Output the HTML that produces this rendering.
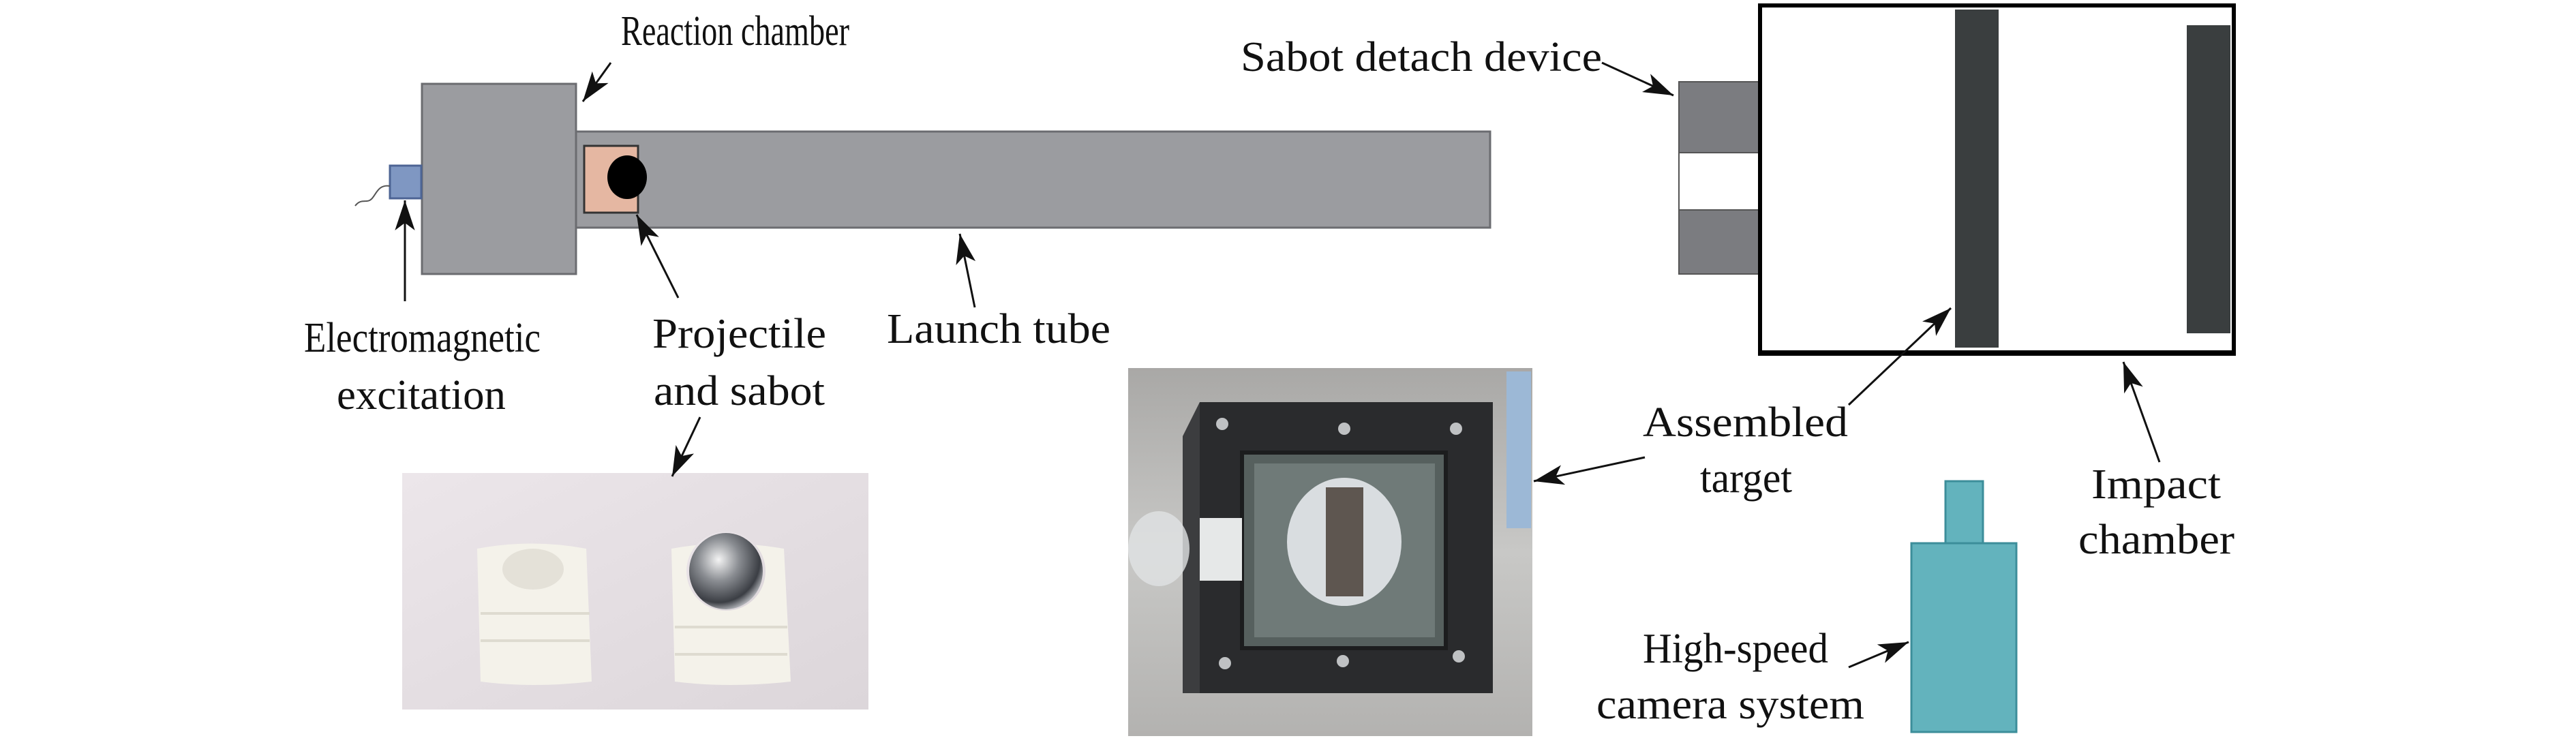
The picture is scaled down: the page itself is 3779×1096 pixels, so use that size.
<!DOCTYPE html>
<html><head><meta charset="utf-8"><style>
html,body{margin:0;padding:0;background:#fff;}
svg{display:block;}
text{font-family:"Liberation Serif","DejaVu Serif",serif;font-size:62px;fill:#111;}
</style></head><body>
<svg width="3779" height="1096" viewBox="0 0 3779 1096" xmlns="http://www.w3.org/2000/svg">
<defs>
<marker id="a" viewBox="0 0 12 8" refX="12" refY="4" markerWidth="44" markerHeight="30" markerUnits="userSpaceOnUse" orient="auto"><path d="M0,0 L12,4 L0,8 L3,4 z" fill="#111"/></marker>
<radialGradient id="ball" cx="0.4" cy="0.35" r="0.7"><stop offset="0" stop-color="#f4f4f4"/><stop offset="0.4" stop-color="#8a8d92"/><stop offset="0.8" stop-color="#3b3e44"/><stop offset="1" stop-color="#c9cbd0"/></radialGradient>
<linearGradient id="bg1" x1="0" y1="0" x2="1" y2="1"><stop offset="0" stop-color="#ece6ea"/><stop offset="1" stop-color="#dcd6da"/></linearGradient>
<linearGradient id="bg2" x1="0" y1="0" x2="0" y2="1"><stop offset="0" stop-color="#a9a8a6"/><stop offset="0.5" stop-color="#c8c8c6"/><stop offset="1" stop-color="#b3b2b0"/></linearGradient>
</defs>

<rect x="845" y="193" width="1341" height="141" fill="#9b9ca0" stroke="#6b6c70" stroke-width="3"/>
<rect x="619" y="123" width="226" height="279" fill="#9b9ca0" stroke="#6b6c70" stroke-width="3"/>
<rect x="572" y="243" width="46" height="48" fill="#7f97c2" stroke="#4d6494" stroke-width="3"/>
<path d="M572,273 C555,270 552,285 545,292 C538,299 530,290 521,302" fill="none" stroke="#555" stroke-width="2"/>
<rect x="857" y="214" width="79" height="98" fill="#e5b7a2" stroke="#333" stroke-width="3"/>
<ellipse cx="920" cy="260" rx="29" ry="32" fill="#000"/>

<rect x="2463" y="120" width="117" height="104" fill="#7b7c80" stroke="#555" stroke-width="2"/>
<rect x="2463" y="224" width="117" height="84" fill="#fff" stroke="#555" stroke-width="2"/>
<rect x="2463" y="308" width="117" height="94" fill="#7b7c80" stroke="#555" stroke-width="2"/>

<rect x="2582" y="8" width="695" height="511" fill="#fff" stroke="#000" stroke-width="6"/>
<rect x="2580" y="514" width="699" height="8" fill="#000"/>
<rect x="2868" y="14" width="64" height="496" fill="#3a3e3f"/>
<rect x="3208" y="37" width="64" height="452" fill="#3a3e3f"/>

<rect x="2854" y="706" width="55" height="93" fill="#63b3bd" stroke="#3c8e9a" stroke-width="3"/>
<rect x="2804" y="797" width="154" height="277" fill="#63b3bd" stroke="#3c8e9a" stroke-width="3"/>

<rect x="590" y="694" width="684" height="347" fill="url(#bg1)"/>
<path d="M700,805 Q780,790 860,805 L868,1000 Q780,1010 705,1000 Z" fill="#f4f2ea"/>
<ellipse cx="782" cy="835" rx="45" ry="30" fill="#e4e1d8"/>
<path d="M985,805 Q1065,790 1150,805 L1160,1000 Q1070,1010 990,1000 Z" fill="#f4f2ea"/>
<ellipse cx="1065" cy="838" rx="58" ry="58" fill="url(#bg1)"/>
<ellipse cx="1065" cy="838" rx="54" ry="56" fill="url(#ball)"/>
<g stroke="#dedbd0" stroke-width="4"><line x1="705" y1="900" x2="865" y2="900"/><line x1="705" y1="940" x2="865" y2="940"/><line x1="990" y1="920" x2="1155" y2="920"/><line x1="990" y1="960" x2="1155" y2="960"/></g>

<rect x="1655" y="540" width="593" height="540" fill="url(#bg2)"/>
<rect x="2210" y="545" width="36" height="230" fill="#9cb8d6"/>
<polygon points="1760,590 2190,590 2190,1017 1760,1017" fill="#2a2b2d"/>
<polygon points="1760,590 1735,640 1735,1017 1760,1017" fill="#3c3d3f"/>
<rect x="1822" y="664" width="299" height="287" fill="#56605e" stroke="#1c1d1e" stroke-width="6"/>
<rect x="1840" y="680" width="265" height="255" fill="#6f7a78"/>
<ellipse cx="1972" cy="795" rx="84" ry="94" fill="#d9dde0"/>
<rect x="1945" y="715" width="55" height="160" fill="#5e5650"/>
<rect x="1760" y="760" width="62" height="92" fill="#e6e8e8"/>
<ellipse cx="1700" cy="805" rx="45" ry="55" fill="#e0e2e4" opacity="0.8"/>
<g fill="#bfc1c3"><circle cx="1793" cy="622" r="9"/><circle cx="1972" cy="629" r="9"/><circle cx="2136" cy="629" r="9"/><circle cx="1797" cy="973" r="9"/><circle cx="1970" cy="970" r="9"/><circle cx="2140" cy="963" r="9"/></g>

<g stroke="#111" stroke-width="3" fill="none" marker-end="url(#a)">
<line x1="896" y1="92" x2="855" y2="149"/>
<line x1="2350" y1="92" x2="2455" y2="140"/>
<line x1="594" y1="442" x2="594" y2="294"/>
<line x1="995" y1="437" x2="934" y2="315"/>
<line x1="1430" y1="451" x2="1408" y2="343"/>
<line x1="1027" y1="612" x2="986" y2="699"/>
<line x1="2712" y1="594" x2="2862" y2="452"/>
<line x1="2413" y1="671" x2="2250" y2="706"/>
<line x1="3168" y1="678" x2="3115" y2="531"/>
<line x1="2712" y1="979" x2="2800" y2="942"/>
</g>

<text x="911" y="66" textLength="335" lengthAdjust="spacingAndGlyphs">Reaction chamber</text>
<text x="1820" y="104" textLength="530" lengthAdjust="spacingAndGlyphs">Sabot detach device</text>
<text x="446" y="516" textLength="347" lengthAdjust="spacingAndGlyphs">Electromagnetic</text>
<text x="494" y="600" textLength="248" lengthAdjust="spacingAndGlyphs">excitation</text>
<text x="957" y="510" textLength="255" lengthAdjust="spacingAndGlyphs">Projectile</text>
<text x="959" y="594" textLength="251" lengthAdjust="spacingAndGlyphs">and sabot</text>
<text x="1301" y="503" textLength="328" lengthAdjust="spacingAndGlyphs">Launch tube</text>
<text x="2410" y="640" textLength="301" lengthAdjust="spacingAndGlyphs">Assembled</text>
<text x="2494" y="722" textLength="135" lengthAdjust="spacingAndGlyphs">target</text>
<text x="3068" y="731" textLength="190" lengthAdjust="spacingAndGlyphs">Impact</text>
<text x="3049" y="812" textLength="229" lengthAdjust="spacingAndGlyphs">chamber</text>
<text x="2410" y="972" textLength="272" lengthAdjust="spacingAndGlyphs">High-speed</text>
<text x="2342" y="1054" textLength="393" lengthAdjust="spacingAndGlyphs">camera system</text>
</svg>
</body></html>
